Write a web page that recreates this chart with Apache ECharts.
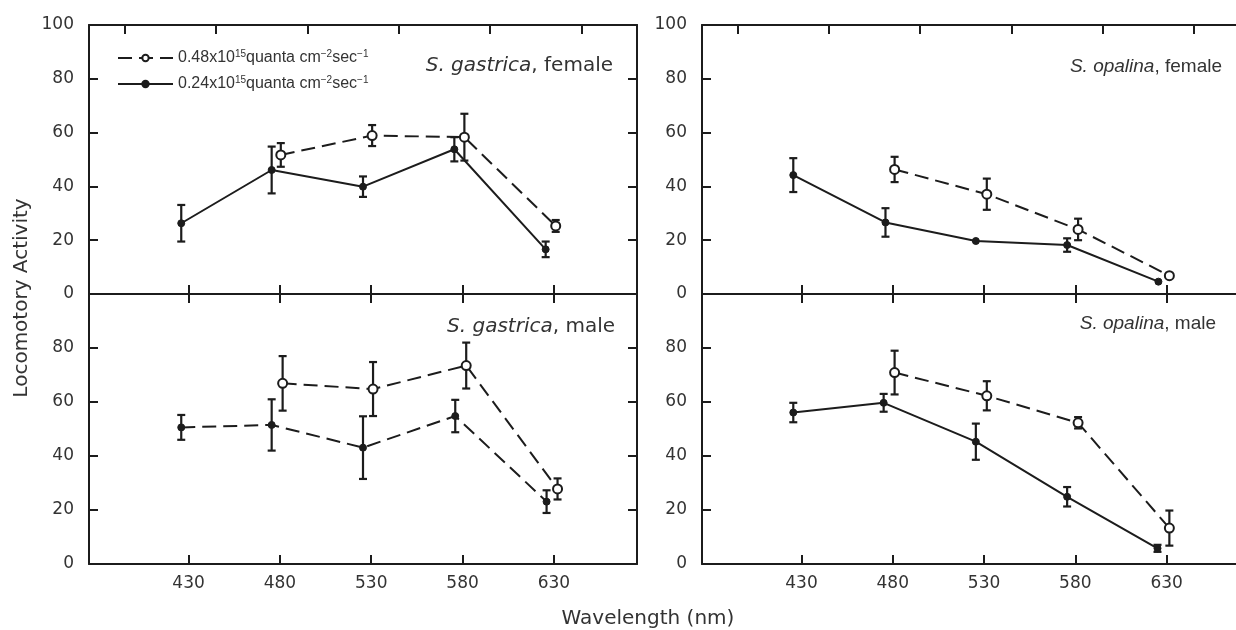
<!DOCTYPE html>
<html>
<head>
<meta charset="utf-8">
<title>Locomotory activity vs wavelength</title>
<script src="https://cdn.jsdelivr.net/npm/echarts@6/dist/echarts.min.js"></script>
<style>
  html, body { margin: 0; padding: 0; background: #fff; }
  #chart { width: 1236px; height: 630px; }
</style>
</head>
<body>
<div id="chart"></div>
<script>
// wavelength ticks (nm) and the offset ticks along the top edge
const waveTicks = [430, 480, 530, 580, 630]
const topTicks = [395, 445, 495, 545, 595, 645]

// S. gastrica, female
const gasFemHiX = [480.5, 530.5, 581, 631]
const gasFemHiY = [51.7, 58.9, 58.3, 25.3]
const gasFemHiErr = [4.4, 3.9, 8.7, 2.2]
const gasFemLoX = [426, 475.5, 525.5, 575.5, 625.5]
const gasFemLoY = [26.3, 46.1, 39.9, 53.8, 16.6]
const gasFemLoErr = [6.8, 8.7, 3.8, 4.5, 2.9]

// S. opalina, female
const opaFemHiX = [481, 531.5, 581.5, 631.5]
const opaFemHiY = [46.3, 37.1, 24.0, 6.8]
const opaFemHiErr = [4.7, 5.8, 4.0, 0]
const opaFemLoX = [425.5, 476, 525.5, 575.5, 625.5]
const opaFemLoY = [44.2, 26.6, 19.7, 18.2, 4.6]
const opaFemLoErr = [6.3, 5.3, 0, 2.5, 0]

// S. gastrica, male
const gasMalHiX = [481.5, 531, 582, 632]
const gasMalHiY = [66.9, 64.8, 73.5, 27.8]
const gasMalHiErr = [10.1, 10, 8.5, 3.9]
const gasMalLoX = [426, 475.5, 525.5, 576, 626]
const gasMalLoY = [50.6, 51.5, 43.1, 54.8, 23.1]
const gasMalLoErr = [4.6, 9.5, 11.6, 6, 4.2]

// S. opalina, male
const opaMalHiX = [481, 531.5, 581.5, 631.5]
const opaMalHiY = [70.9, 62.3, 52.3, 13.3]
const opaMalHiErr = [8.1, 5.4, 2.1, 6.5]
const opaMalLoX = [425.5, 475, 525.5, 575.5, 625]
const opaMalLoY = [56.1, 59.7, 45.3, 24.9, 5.8]
const opaMalLoErr = [3.6, 3.3, 6.7, 3.6, 1.3]

const INK = '#1c1c1c'
const TXT = '#333'
const NUM_FONT = 'DejaVu Sans'

const panels = [
  { hi: [gasFemHiX, gasFemHiY, gasFemHiErr], lo: [gasFemLoX, gasFemLoY, gasFemLoErr] },
  { hi: [opaFemHiX, opaFemHiY, opaFemHiErr], lo: [opaFemLoX, opaFemLoY, opaFemLoErr] },
  { hi: [gasMalHiX, gasMalHiY, gasMalHiErr], lo: [gasMalLoX, gasMalLoY, gasMalLoErr] },
  { hi: [opaMalHiX, opaMalHiY, opaMalHiErr], lo: [opaMalLoX, opaMalLoY, opaMalLoErr] }
]

// right-hand panels run off the right edge of the picture, so they stop
// at the canvas edge with a shorter wavelength range at the same scale
const grids = [
  { left: 89, top: 25, width: 548, height: 269 },
  { left: 702, top: 25, right: 0, height: 269 },
  { left: 89, top: 294, width: 548, height: 270 },
  { left: 702, top: 294, right: 0, height: 270 }
]
const xMin = 375.5
const xMaxLeft = 675.5
const xMaxRight = 668

const dash = [14, 7]
const axisLine = { onZero: false, lineStyle: { color: INK, width: 2 } }

const xAxes = []
const yAxes = []
grids.forEach((g, i) => {
  const isBottom = i >= 2
  const isRight = i % 2 === 1
  const xMax = isRight ? xMaxRight : xMaxLeft
  xAxes.push({
    type: 'value', gridIndex: i, position: 'bottom', min: xMin, max: xMax,
    axisLine: axisLine,
    axisTick: { inside: true, length: 9, lineStyle: { color: INK, width: 2 }, customValues: waveTicks },
    axisLabel: { show: isBottom, customValues: waveTicks, color: TXT, fontSize: 17, fontFamily: NUM_FONT, margin: 11 },
    splitLine: { show: false }
  })
  xAxes.push({
    type: 'value', gridIndex: i, position: 'top', min: xMin, max: xMax,
    axisLine: axisLine,
    axisTick: { inside: true, length: 9, lineStyle: { color: INK, width: 2 }, customValues: isBottom ? waveTicks : topTicks },
    axisLabel: { show: false },
    splitLine: { show: false }
  })
  yAxes.push({
    type: 'value', gridIndex: i, position: 'left', min: 0, max: 100, interval: 20,
    axisLine: axisLine,
    axisTick: { inside: true, length: 9, lineStyle: { color: INK, width: 2 } },
    axisLabel: { color: TXT, fontSize: 17, fontFamily: NUM_FONT, margin: 15, showMaxLabel: !isBottom },
    splitLine: { show: false }
  })
  yAxes.push({
    type: 'value', gridIndex: i, position: 'right', min: 0, max: 100, interval: 20,
    show: !isRight,
    axisLine: axisLine,
    axisTick: { inside: true, length: 9, lineStyle: { color: INK, width: 2 } },
    axisLabel: { show: false },
    splitLine: { show: false }
  })
})

function errorBars(xs, ys, errs, i) {
  return {
    type: 'custom', xAxisIndex: i * 2, yAxisIndex: i * 2, z: 2, silent: true,
    data: xs.map((x, k) => [x, ys[k], errs[k]]),
    encode: { x: 0, y: 1 },
    renderItem: (params, api) => {
      const x = api.value(0), y = api.value(1), e = api.value(2)
      if (!e) return null
      const a = api.coord([x, y + e])
      const b = api.coord([x, y - e])
      const st = { stroke: INK, lineWidth: 2.2 }
      return {
        type: 'group',
        children: [
          { type: 'line', shape: { x1: a[0], y1: a[1], x2: b[0], y2: b[1] }, style: st },
          { type: 'line', shape: { x1: a[0] - 4, y1: a[1], x2: a[0] + 4, y2: a[1] }, style: st },
          { type: 'line', shape: { x1: b[0] - 4, y1: b[1], x2: b[0] + 4, y2: b[1] }, style: st }
        ]
      }
    }
  }
}

const series = []
panels.forEach((p, i) => {
  // only the S. gastrica male panel draws the low-intensity line dashed
  const loDash = i === 2
  series.push({
    name: '0.48', type: 'line', xAxisIndex: i * 2, yAxisIndex: i * 2, z: 3,
    data: p.hi[0].map((x, k) => [x, p.hi[1][k]]),
    symbol: 'circle', symbolSize: 9,
    lineStyle: { color: INK, width: 2, type: dash },
    itemStyle: { color: '#fff', borderColor: INK, borderWidth: 2 }
  })
  series.push({
    name: '0.24', type: 'line', xAxisIndex: i * 2, yAxisIndex: i * 2, z: 3,
    data: p.lo[0].map((x, k) => [x, p.lo[1][k]]),
    symbol: 'circle', symbolSize: 7,
    lineStyle: { color: INK, width: 2, type: loDash ? dash : 'solid' },
    itemStyle: { color: INK, borderColor: INK, borderWidth: 1 }
  })
  series.push(errorBars(p.hi[0], p.hi[1], p.hi[2], i))
  series.push(errorBars(p.lo[0], p.lo[1], p.lo[2], i))
})

const titleStyle = (size, family) => ({
  fontSize: size, fontWeight: 'normal', color: TXT, fontFamily: family,
  rich: { i: { fontSize: size, fontStyle: 'italic', color: TXT, fontFamily: family } }
})

const option = {
  animation: false,
  backgroundColor: '#fff',
  grid: grids,
  xAxis: xAxes,
  yAxis: yAxes,
  series: series,
  title: [
    { text: '{i|S. gastrica}, female', right: 623, top: 56, padding: 0, textStyle: titleStyle(20, NUM_FONT) },
    { text: '{i|S. opalina}, female', right: 14, top: 57, padding: 0, textStyle: titleStyle(19, 'Liberation Sans') },
    { text: '{i|S. gastrica}, male', right: 621, top: 317, padding: 0, textStyle: titleStyle(20, NUM_FONT) },
    { text: '{i|S. opalina}, male', right: 20, top: 314, padding: 0, textStyle: titleStyle(19, 'Liberation Sans') }
  ],
  legend: {
    orient: 'vertical', left: 117, top: 49, padding: 0,
    itemWidth: 55, itemHeight: 8, itemGap: 8,
    data: ['0.48', '0.24'],
    formatter: name => name + 'x10{sup|15}quanta cm{sup|\u22122}sec{sup|\u22121}',
    textStyle: {
      fontSize: 16, color: TXT, fontFamily: 'Liberation Sans', lineHeight: 18,
      rich: { sup: { fontSize: 10, color: TXT, fontFamily: 'Liberation Sans', verticalAlign: 'top' } }
    }
  },
  graphic: [
    { type: 'text', x: 22, y: 298, rotation: Math.PI / 2,
      style: { text: 'Locomotory Activity', align: 'center', verticalAlign: 'middle', fontSize: 20, fontFamily: NUM_FONT, fill: TXT } },
    { type: 'text', x: 648, y: 619,
      style: { text: 'Wavelength (nm)', align: 'center', verticalAlign: 'middle', fontSize: 20, fontFamily: NUM_FONT, fill: TXT } }
  ]
}

const chart = echarts.init(document.getElementById('chart'))
chart.setOption(option)
</script>
</body>
</html>
